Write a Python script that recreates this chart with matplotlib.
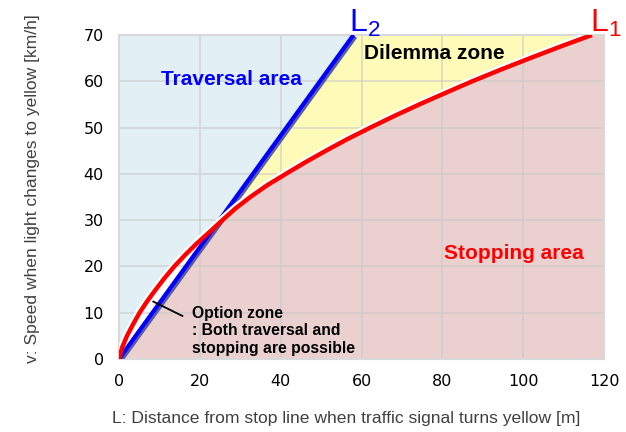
import numpy as np
import matplotlib
matplotlib.use("Agg")
import matplotlib.pyplot as plt
import matplotlib.patheffects as pe

plt.rcParams['mathtext.fontset'] = 'custom'
plt.rcParams['mathtext.rm'] = 'Liberation Sans'
plt.rcParams['mathtext.it'] = 'Liberation Sans'

# L1: stopping distance curve, speed v vs distance L
l1_v = [0, 2.5, 5, 7.5, 10, 12.5, 15, 17.5, 20, 22.5, 25, 27.5, 30, 32.5, 35,
        37.5, 40, 42.5, 45, 47.5, 50, 52.5, 55, 57.5, 60, 62.5, 65, 67.5, 70]
l1_L = [0, 0.8, 2.0, 3.5, 5.1, 7.0, 9.1, 11.3, 13.7, 16.4, 19.3, 22.5, 25.6, 28.8, 32.5,
        36.6, 41.3, 46.1, 51.2, 56.5, 62.2, 68.1, 74.3, 80.8, 87.4, 94.4, 101.7, 109.2, 117.0]

# L2: traversal limit line
l2_v = [0, 70]
l2_L = [0, 58.0]

xticks = [0, 20, 40, 60, 80, 100, 120]
yticks = [0, 10, 20, 30, 40, 50, 60, 70]

c_trav = '#e2eff5'
c_dil = '#fdfbb7'
c_stop = '#ebd0d0'

fig = plt.figure(figsize=(6.26, 4.32), dpi=100)
ax = fig.add_axes([0.190, 0.169, 0.775, 0.750])

v = np.array(l1_v, dtype=float)
Lr = np.array(l1_L, dtype=float)
Lb = np.interp(v, l2_v, l2_L)

# area fills
ax.fill_betweenx(v, 0, np.minimum(Lr, Lb), color=c_trav, lw=0, zorder=0.2)
ax.fill_betweenx(v, Lb, Lr, where=Lr > Lb, interpolate=True, color=c_dil, lw=0, zorder=0.2)
ax.fill_betweenx(v, np.maximum(Lr, Lb), 120, color=c_stop, lw=0, zorder=0.2)

ax.plot(l2_L, l2_v, color='#0000ff', lw=3.0, solid_capstyle='butt', zorder=3,
        path_effects=[pe.SimpleLineShadow(offset=(1.4, -1.2), shadow_color='#4b4b9a', alpha=0.9),
                      pe.Normal()])
ax.plot(l1_L, l1_v, color='#ff0000', lw=3.2, solid_capstyle='butt', zorder=4,
        path_effects=[pe.SimpleLineShadow(offset=(-1.0, 1.3), shadow_color='white', alpha=1.0),
                      pe.Normal()])

ax.set_xlim(0, 120)
ax.set_ylim(0, 70)
ax.set_xticks(xticks)
ax.set_yticks(yticks)
ax.tick_params(length=0, labelsize=11.5, pad=11)
for lab in ax.get_xticklabels() + ax.get_yticklabels():
    lab.set_fontfamily('DejaVu Sans')
ax.set_axisbelow(True)
ax.grid(True, color='#c8c8c8', lw=1.4, alpha=0.55)
for s in ax.spines.values():
    s.set_color('#d9d9d9')
    s.set_linewidth(1.5)

fig.text(0.553, 0.0324, 'L: Distance from stop line when traffic signal turns yellow [m]',
         fontsize=12.6, family='Liberation Sans', color='#404040', ha='center', va='center')
fig.text(0.0527, 0.5625, 'v: Speed when light changes to yellow [km/h]', rotation=90,
         fontsize=12.6, family='Liberation Sans', color='#404040', ha='center', va='center')

bold = dict(family='Liberation Sans', fontweight='bold')
ax.text(27.9, 60.3, 'Traversal area', color='#0000ff', fontsize=15, ha='center', va='center', **bold)
ax.text(77.9, 66.1, 'Dilemma zone', color='black', fontsize=15, ha='center', va='center', **bold)
ax.text(97.7, 22.7, 'Stopping area', color='#ff0000', fontsize=15, ha='center', va='center', **bold)
ax.text(18.0, 6.1, 'Option zone\n: Both traversal and\nstopping are possible', color='black',
        fontsize=11.3, ha='left', va='center', linespacing=1.22, zorder=5, **bold)
ax.plot([8.5, 15.7], [12.4, 9.3], color='black', lw=1.3, zorder=5)

# line labels
ax.text(57.0, 70.7, r'$\mathrm{L}_{2}$', color='#0000ff', fontsize=23,
        ha='left', va='baseline', clip_on=False)
ax.text(116.6, 70.7, r'$\mathrm{L}_{1}$', color='#ff0000', fontsize=23,
        ha='left', va='baseline', clip_on=False)

fig.savefig('out.png', dpi=100)
